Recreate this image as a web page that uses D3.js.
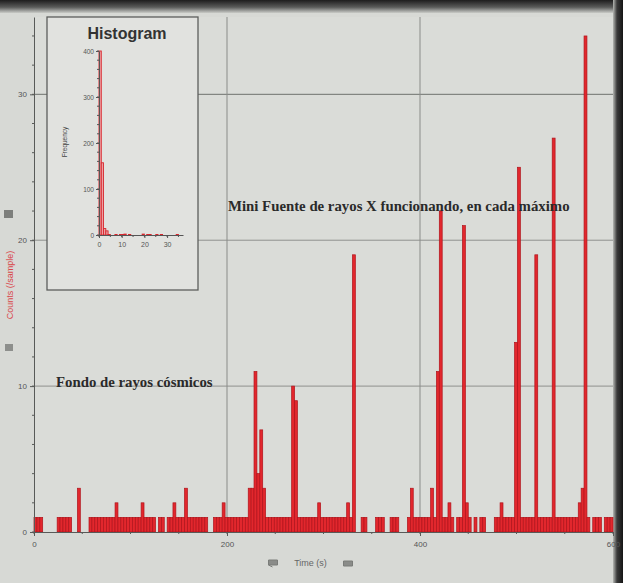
<!DOCTYPE html>
<html>
<head>
<meta charset="utf-8">
<script src="https://cdn.jsdelivr.net/npm/d3@7"></script>
<style>
  html, body { margin: 0; padding: 0; background: #d7d9d5; }
  svg { display: block; }
</style>
</head>
<body>
<svg id="chart" width="623" height="583"></svg>
<script>
// Counts recorded in each 3 s sample, starting at t = 0 s
const sampleStep = 3;
const counts = [
  1, 1, 1, 0, 0, 0, 0, 0, 1, 1,
  1, 1, 1, 0, 0, 3, 0, 0, 0, 1,
  1, 1, 1, 1, 1, 1, 1, 1, 2, 1,
  1, 1, 1, 1, 1, 1, 1, 2, 1, 1,
  1, 1, 0, 1, 1, 0, 1, 1, 2, 1,
  1, 1, 3, 1, 1, 1, 1, 1, 1, 1,
  0, 0, 1, 1, 1, 2, 1, 1, 1, 1,
  1, 1, 1, 1, 3, 3, 11, 4, 7, 3,
  1, 1, 1, 1, 1, 1, 1, 1, 1, 10,
  9, 1, 1, 1, 1, 1, 1, 1, 2, 1,
  1, 1, 1, 1, 1, 1, 1, 1, 2, 1,
  19, 0, 0, 1, 1, 0, 0, 0, 1, 1,
  1, 0, 0, 1, 1, 1, 0, 0, 0, 1,
  3, 1, 1, 1, 1, 1, 1, 3, 1, 11,
  22, 1, 1, 2, 1, 0, 1, 1, 21, 2,
  1, 0, 1, 0, 1, 1, 0, 0, 0, 1,
  1, 2, 1, 1, 1, 1, 13, 25, 1, 1,
  1, 1, 1, 19, 1, 1, 1, 1, 1, 27,
  1, 1, 1, 1, 1, 1, 1, 1, 2, 3,
  34, 1, 0, 1, 1, 1, 0, 1, 1, 1
];
const timeTicks = [0, 200, 400, 600];
const countTicks = [0, 10, 20, 30];

// Histogram of counts per sample
const histBins = [0, 1, 2, 3, 4, 7, 9, 10, 11, 13, 19, 21, 22, 25, 27, 34];
const histFreq = [430, 157, 14, 9, 1, 1, 1, 1, 2, 1, 2, 1, 1, 1, 1, 1];
const histXTicks = [0, 10, 20, 30];
const histYTicks = [0, 100, 200, 300, 400];

const W = 623, H = 583;
const svg = d3.select("#chart");
const defs = svg.append("defs");

// screen backdrop with dark bezel edges
svg.append("rect").attr("width", W).attr("height", H).attr("fill", "#d7d9d5");
const gTop = defs.append("linearGradient").attr("id", "bezelTop")
  .attr("x1", 0).attr("y1", 0).attr("x2", 0).attr("y2", 1);
gTop.append("stop").attr("offset", 0).attr("stop-color", "#1d1d1d");
gTop.append("stop").attr("offset", 0.55).attr("stop-color", "#5a5b5a");
gTop.append("stop").attr("offset", 1).attr("stop-color", "#c9cbc7");
svg.append("rect").attr("x", 0).attr("y", 0).attr("width", W).attr("height", 13)
  .attr("fill", "url(#bezelTop)");
const gRight = defs.append("linearGradient").attr("id", "bezelRight")
  .attr("x1", 0).attr("y1", 0).attr("x2", 1).attr("y2", 0);
gRight.append("stop").attr("offset", 0).attr("stop-color", "#b5b7b3");
gRight.append("stop").attr("offset", 0.4).attr("stop-color", "#3a3a3a");
gRight.append("stop").attr("offset", 1).attr("stop-color", "#151515");
svg.append("rect").attr("x", 613).attr("y", 0).attr("width", 10).attr("height", H)
  .attr("fill", "url(#bezelRight)");

// main graph scales
const x = d3.scaleLinear().domain([0, 600]).range([34, 613]);
const y = d3.scaleLinear().domain([0, 35.3]).range([532, 17]);

const plot = svg.append("g");
plot.append("rect")
  .attr("x", x(0)).attr("y", y(35.3))
  .attr("width", x(600) - x(0)).attr("height", y(0) - y(35.3))
  .attr("fill", "#dadcd8");

// grid
plot.append("g").selectAll("line").data(countTicks.filter(d => d > 0)).join("line")
  .attr("x1", x(0)).attr("x2", x(600))
  .attr("y1", d => y(d)).attr("y2", d => y(d))
  .attr("stroke", d => d === 30 ? "#6f716e" : "#8f918e").attr("stroke-width", 1);
plot.append("g").selectAll("line").data(timeTicks.filter(d => d > 0 && d < 600)).join("line")
  .attr("x1", d => x(d)).attr("x2", d => x(d))
  .attr("y1", y(0)).attr("y2", y(35.3))
  .attr("stroke", "#8a8c89").attr("stroke-width", 1);

// bars, one per sample
const bw = x(sampleStep) - x(0);
plot.append("g").selectAll("rect").data(counts.map((c, i) => ({ t: i * sampleStep, c })).filter(d => d.c > 0))
  .join("rect")
  .attr("x", d => x(d.t))
  .attr("y", d => y(d.c))
  .attr("width", bw)
  .attr("height", d => y(0) - y(d.c))
  .attr("fill", "#e2272d")
  .attr("stroke", "#b0141c")
  .attr("stroke-width", 0.7);

// axes
const yAxis = d3.axisLeft(y).tickValues(countTicks).tickSize(4).tickSizeOuter(0).tickPadding(3);
const ya = plot.append("g").attr("transform", `translate(${x(0)},0)`).call(yAxis);
ya.select(".domain").attr("stroke", "#585a58");
ya.selectAll(".tick line").attr("stroke", "#585a58");
ya.selectAll("text").attr("font-family", "Liberation Sans, Arial, sans-serif")
  .attr("font-size", 8).attr("fill", "#555");
plot.append("g").selectAll("line").data(d3.range(0, 35, 2)).join("line")
  .attr("x1", x(0) - 2).attr("x2", x(0))
  .attr("y1", d => y(d)).attr("y2", d => y(d))
  .attr("stroke", "#585a58");

const xAxis = d3.axisBottom(x).tickValues(timeTicks).tickSize(4).tickSizeOuter(0).tickPadding(5);
const xa = plot.append("g").attr("transform", `translate(0,${y(0)})`).call(xAxis);
xa.select(".domain").attr("stroke", "#585a58");
xa.selectAll(".tick line").attr("stroke", "#585a58");
xa.selectAll("text").attr("font-family", "Liberation Sans, Arial, sans-serif")
  .attr("font-size", 8).attr("fill", "#555");
plot.append("g").selectAll("line").data(d3.range(0, 601, 50)).join("line")
  .attr("x1", d => x(d)).attr("x2", d => x(d))
  .attr("y1", y(0)).attr("y2", y(0) + 2)
  .attr("stroke", "#585a58");

// axis titles
const xt = svg.append("g").attr("transform", `translate(${(x(0) + x(600)) / 2 - 13},566)`);
xt.append("text").attr("text-anchor", "middle")
  .attr("font-family", "Liberation Sans, Arial, sans-serif").attr("font-size", 9)
  .attr("fill", "#666").text("Time (s)");
xt.append("path").attr("d", "M-42,-6 h9 v5 h-9 z M-42,-1 l4,2").attr("fill", "#8a8c89").attr("stroke", "#7a7c79");
xt.append("path").attr("d", "M33,-5 h9 v5 h-9 z").attr("fill", "#8a8c89").attr("stroke", "#7a7c79");

const yt = svg.append("g").attr("transform", "translate(13,285) rotate(-90)");
yt.append("text").attr("text-anchor", "middle")
  .attr("font-family", "Liberation Sans, Arial, sans-serif").attr("font-size", 9)
  .attr("fill", "#d9474b").text("Counts (/sample)");
yt.append("path").attr("d", "M67,-9 h8 v9 h-8 z").attr("fill", "#7d7f7c");
yt.append("path").attr("d", "M-66,-8 h7 v8 h-7 z").attr("fill", "#8d8f8c");

// annotations
svg.append("text").attr("x", 228).attr("y", 211)
  .attr("font-family", "Liberation Serif, Times New Roman, serif").attr("font-weight", "bold")
  .attr("font-size", 14.8).attr("fill", "#2a2a2a")
  .text("Mini Fuente de rayos X funcionando, en cada máximo");
svg.append("text").attr("x", 56).attr("y", 387)
  .attr("font-family", "Liberation Serif, Times New Roman, serif").attr("font-weight", "bold")
  .attr("font-size", 14.8).attr("fill", "#2a2a2a")
  .text("Fondo de rayos cósmicos");

// histogram inset
const inset = svg.append("g");
inset.append("rect").attr("x", 47).attr("y", 17).attr("width", 151).attr("height", 273)
  .attr("fill", "#e1e2df").attr("stroke", "#5c5e5c").attr("stroke-width", 1.3);
inset.append("text").attr("x", 127).attr("y", 39).attr("text-anchor", "middle")
  .attr("font-family", "Liberation Sans, Arial, sans-serif").attr("font-weight", "bold")
  .attr("font-size", 16).attr("fill", "#333").text("Histogram");

const hx = d3.scaleLinear().domain([0, 37]).range([99, 183]);
const hy = d3.scaleLinear().domain([0, 400]).range([235, 51]).clamp(true);
const hbw = hx(1) - hx(0);

inset.append("g").selectAll("rect").data(histBins.map((b, i) => ({ b, f: histFreq[i] })))
  .join("rect")
  .attr("x", d => hx(d.b))
  .attr("y", d => hy(d.f))
  .attr("width", hbw)
  .attr("height", d => hy(0) - hy(d.f))
  .attr("fill", "#eca0a3")
  .attr("stroke", "#d8262d")
  .attr("stroke-width", 0.9);

const hyAxis = d3.axisLeft(hy).tickValues(histYTicks).tickSize(3).tickSizeOuter(0).tickPadding(2);
const hya = inset.append("g").attr("transform", `translate(${hx(0)},0)`).call(hyAxis);
hya.select(".domain").attr("stroke", "#555");
hya.selectAll(".tick line").attr("stroke", "#555");
hya.selectAll("text").attr("font-family", "Liberation Sans, Arial, sans-serif")
  .attr("font-size", 6.5).attr("fill", "#555");
inset.append("g").selectAll("line").data(d3.range(0, 401, 20)).join("line")
  .attr("x1", hx(0) - 2).attr("x2", hx(0))
  .attr("y1", d => hy(d)).attr("y2", d => hy(d))
  .attr("stroke", "#555");

const hxAxis = d3.axisBottom(hx).tickValues(histXTicks).tickSize(3).tickSizeOuter(0).tickPadding(4);
const hxa = inset.append("g").attr("transform", `translate(0,${hy(0)})`).call(hxAxis);
hxa.select(".domain").attr("stroke", "#555");
hxa.selectAll(".tick line").attr("stroke", "#555");
hxa.selectAll("text").attr("font-family", "Liberation Sans, Arial, sans-serif")
  .attr("font-size", 7).attr("fill", "#555");
inset.append("g").selectAll("line").data(d3.range(0, 37, 5)).join("line")
  .attr("x1", d => hx(d)).attr("x2", d => hx(d))
  .attr("y1", hy(0)).attr("y2", hy(0) + 2)
  .attr("stroke", "#555");

inset.append("text").attr("transform", "translate(67,142) rotate(-90)")
  .attr("text-anchor", "middle")
  .attr("font-family", "Liberation Sans, Arial, sans-serif").attr("font-size", 6.5)
  .attr("fill", "#444").text("Frequency");
</script>
</body>
</html>
